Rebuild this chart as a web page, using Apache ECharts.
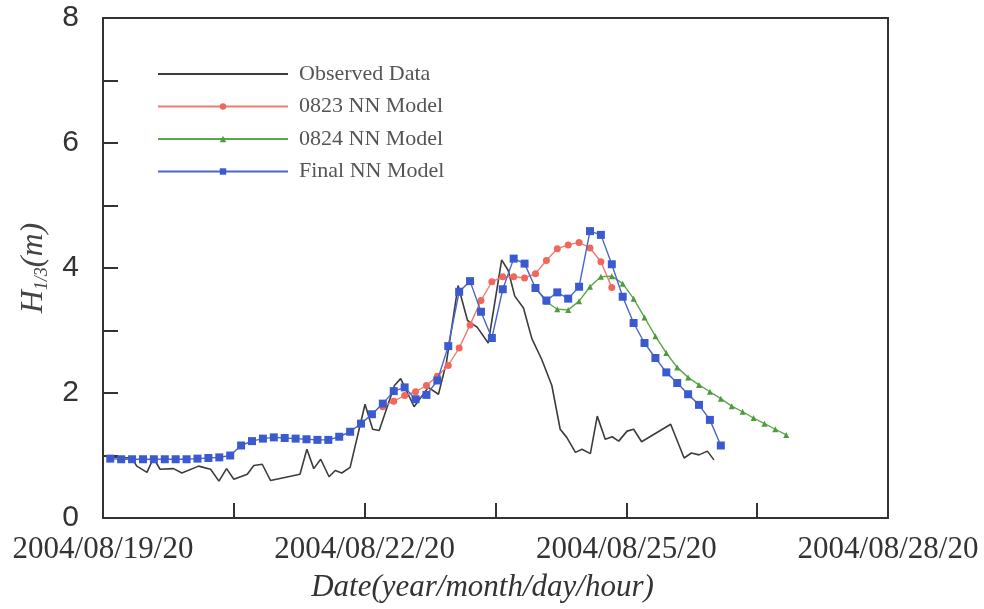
<!DOCTYPE html>
<html>
<head>
<meta charset="utf-8">
<script src="https://cdn.jsdelivr.net/npm/echarts@6/dist/echarts.min.js"></script>
<style>html,body{margin:0;padding:0;background:#fff}#c{width:984px;height:609px}</style>
</head>
<body>
<div id="c"></div>
<script>
// hours since 2004/08/19 20:00
const xTickLabels = {0:'2004/08/19/20', 72:'2004/08/22/20', 144:'2004/08/25/20', 216:'2004/08/28/20'};
const seriesNames = ['Observed Data','0823 NN Model','0824 NN Model','Final NN Model'];

// Observed: [hour, H1/3]
const observedHours = [1.0,7.9,9.3,12.1,13.9,15.7,19.4,21.7,26.3,29.6,31.9,34.0,36.0,39.7,41.5,43.8,46.1,54.2,56.1,58.0,59.9,62.2,63.9,65.7,68.0,72.1,74.2,76.0,80.2,81.9,83.4,85.6,89.5,92.3,94.5,97.7,100.3,103.0,106.0,109.7,111.5,113.3,115.7,118.0,120.7,123.5,125.8,127.6,130.0,131.8,134.1,136.0,138.2,140.1,141.9,144.2,146.0,148.2,156.2,159.9,161.9,164.0,166.3,168.1];
const observedValues = [0.98,0.96,0.83,0.73,0.96,0.78,0.79,0.72,0.83,0.78,0.59,0.79,0.62,0.70,0.84,0.86,0.60,0.70,1.10,0.79,0.94,0.66,0.76,0.72,0.81,1.82,1.42,1.40,2.12,2.23,2.05,1.78,2.09,1.98,2.49,3.72,3.16,3.05,2.80,4.13,3.96,3.55,3.36,2.87,2.54,2.12,1.42,1.29,1.05,1.10,1.03,1.63,1.26,1.30,1.23,1.39,1.42,1.22,1.50,0.96,1.04,1.01,1.07,0.93];

// Model outputs every 3 hours; first model step index
const modelStartHour = 2, modelStep = 3;
const finalStart = 0;
const finalValues = [0.95,0.94,0.94,0.94,0.94,0.94,0.94,0.94,0.95,0.96,0.97,1.00,1.16,1.23,1.27,1.29,1.28,1.27,1.26,1.25,1.25,1.30,1.38,1.51,1.66,1.83,2.03,2.09,1.90,1.97,2.20,2.75,3.62,3.79,3.30,2.88,3.66,4.15,4.07,3.68,3.48,3.61,3.51,3.70,4.59,4.53,4.06,3.54,3.12,2.80,2.56,2.33,2.16,1.98,1.81,1.57,1.16];
const m0823Start = 25;
const m0823Values = [1.78,1.87,1.96,2.02,2.12,2.27,2.44,2.72,3.09,3.48,3.78,3.86,3.86,3.84,3.91,4.12,4.31,4.37,4.41,4.32,4.10,3.69];
const m0824Start = 39;
const m0824Values = [3.68,3.46,3.34,3.33,3.47,3.70,3.86,3.87,3.75,3.51,3.21,2.91,2.64,2.41,2.25,2.13,2.02,1.91,1.79,1.70,1.60,1.51,1.42,1.33];

function pairs(start, vals){ return vals.map((v,i)=>[modelStartHour + modelStep*(start+i), v]); }

const serif = '"Liberation Serif","DejaVu Serif",serif';
const sans = '"Liberation Sans",Arial,sans-serif';
const axisColor = '#333';

const chart = echarts.init(document.getElementById('c'));
chart.setOption({
  animation:false,
  backgroundColor:'#fff',
  grid:{left:103,right:96,top:18,bottom:91,show:true,borderColor:axisColor,borderWidth:2,backgroundColor:'transparent'},
  legend:{
    orient:'vertical', left:152, top:58,
    itemWidth:130, itemHeight:8, itemGap:10.5,
    textStyle:{fontFamily:serif,fontSize:22,color:'#555',padding:[0,0,0,6]},
    data:[{name:seriesNames[0],itemStyle:{opacity:0}},seriesNames[1],seriesNames[2],seriesNames[3]]
  },
  xAxis:{
    type:'value', min:0, max:216, interval:36,
    name:'Date(year/month/day/hour)', nameLocation:'middle', nameGap:54,
    nameTextStyle:{fontFamily:serif,fontStyle:'italic',fontSize:31,color:'#333',padding:[0,26,0,0]},
    axisLine:{lineStyle:{color:axisColor,width:2}},
    axisTick:{inside:true,length:15,lineStyle:{color:axisColor,width:2}},
    axisLabel:{formatter:v=>xTickLabels[v]||'',fontFamily:serif,fontSize:31,color:'#333',margin:16},
    splitLine:{show:false}
  },
  yAxis:{
    type:'value', min:0, max:8, interval:1,
    name:'{i|H}{s|1/3}{i|(m)}', nameLocation:'middle', nameRotate:90, nameGap:50,
    nameTextStyle:{rich:{
      i:{fontFamily:serif,fontStyle:'italic',fontSize:32,color:'#444',lineHeight:36,verticalAlign:'middle'},
      s:{fontFamily:serif,fontStyle:'italic',fontSize:18,color:'#444',lineHeight:36,verticalAlign:'bottom',padding:[12,0,0,0]}
    }},
    axisLine:{lineStyle:{color:axisColor,width:2}},
    axisTick:{inside:true,length:15,lineStyle:{color:axisColor,width:2}},
    axisLabel:{formatter:v=>(v%2===0?String(v):''),fontFamily:sans,fontSize:30,color:'#333',margin:24},
    splitLine:{show:false}
  },
  series:[
    {name:seriesNames[0],type:'line',data:observedHours.map((h,i)=>[h,observedValues[i]]),
     showSymbol:false,symbol:'none',lineStyle:{color:'#3c3c3c',width:1.6},itemStyle:{color:'#3c3c3c'},z:2},
    {name:seriesNames[1],type:'line',data:pairs(m0823Start,m0823Values),
     symbol:'circle',symbolSize:7,lineStyle:{color:'#f07a6e',width:1.4},itemStyle:{color:'#f2675a'},z:3},
    {name:seriesNames[2],type:'line',data:pairs(m0824Start,m0824Values),
     symbol:'triangle',symbolSize:6,lineStyle:{color:'#5aa84a',width:1.4},itemStyle:{color:'#4e9a3e'},z:3},
    {name:seriesNames[3],type:'line',data:pairs(finalStart,finalValues),
     symbol:'rect',symbolSize:8,lineStyle:{color:'#4a66c8',width:1.4},itemStyle:{color:'#3c5ad0'},z:4}
  ]
});
</script>
</body>
</html>
